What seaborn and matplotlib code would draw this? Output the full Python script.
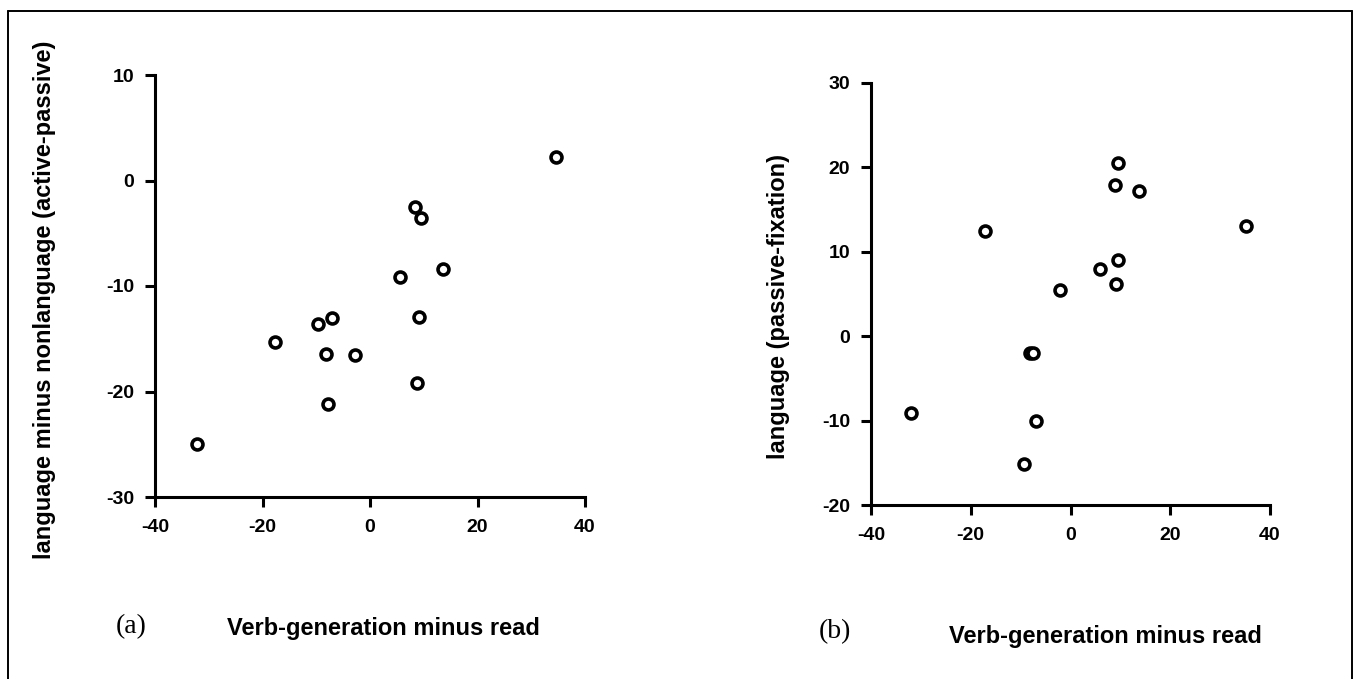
import matplotlib
matplotlib.use("Agg")
import matplotlib.pyplot as plt
from matplotlib.lines import Line2D
import seaborn as sns
import pandas as pd

# Panel (a)
a_x = [-32.2, -17.6, -9.6, -7.0, -8.2, -2.7, -7.9, 5.5, 8.4, 9.4, 9.1, 8.7, 13.5, 34.6]
a_y = [-25.0, -15.3, -13.6, -13.0, -16.4, -16.5, -21.2, -9.1, -2.5, -3.6, -12.9, -19.2, -8.4, 2.2]
# Panel (b)
b_x = [-32.0, -17.2, -9.3, -8.1, -7.5, -7.0, -2.1, 5.9, 9.0, 9.5, 9.5, 9.2, 13.8, 35.1]
b_y = [-9.05, 12.4, -15.2, -2.0, -2.0, -10.1, 5.4, 7.9, 17.9, 20.5, 9.0, 6.2, 17.2, 13.0]

x_ticks = [-40, -20, 0, 20, 40]
a_yticks = [-30, -20, -10, 0, 10]
b_yticks = [-20, -10, 0, 10, 20, 30]
x_label = "Verb-generation minus read"
a_ylabel = "language minus nonlanguage (active-passive)"
b_ylabel = "language (passive-fixation)"
panel_labels = ["(a)", "(b)"]

sns.set_style("ticks")
plt.rcParams["font.family"] = ["Liberation Sans", "DejaVu Sans"]
plt.rcParams["font.weight"] = "bold"
plt.rcParams["text.color"] = "black"

W, H = 1354, 679
fig = plt.figure(figsize=(W / 100, H / 100), dpi=100)
fig.patch.set_facecolor("white")

def fx(px):
    return px / W

def fy(py):
    return 1 - py / H

ax1 = fig.add_axes([fx(155), fy(497), (585 - 155) / W, (497 - 75) / H])
ax2 = fig.add_axes([fx(871), fy(505), (1270 - 871) / W, (505 - 82.7) / H])

dfa = pd.DataFrame({"x": a_x, "y": a_y})
dfb = pd.DataFrame({"x": b_x, "y": b_y})

for ax, df, yt, yl in [(ax1, dfa, a_yticks, a_ylabel), (ax2, dfb, b_yticks, b_ylabel)]:
    sns.scatterplot(data=df, x="x", y="y", ax=ax, marker="o", s=62,
                    facecolor="white", edgecolor="black", linewidth=2.6, zorder=3)
    ax.set_xlim(x_ticks[0], x_ticks[-1])
    ax.set_ylim(yt[0], yt[-1])
    ax.set_xticks(x_ticks)
    ax.set_yticks(yt)
    ax.set_xticklabels([str(t) for t in x_ticks], fontsize=14, fontweight="bold")
    ax.set_yticklabels([str(t) for t in yt], fontsize=14, fontweight="bold")
    ax.set_xlabel("")
    ax.set_ylabel("")
    for s in ["top", "right"]:
        ax.spines[s].set_visible(False)
    for s in ["left", "bottom"]:
        ax.spines[s].set_linewidth(2.2)
        ax.spines[s].set_color("black")
    ax.tick_params(axis="both", which="major", length=7, width=2.2,
                   color="black", labelcolor="black", direction="out")
    ax.tick_params(axis="x", pad=9)
    ax.tick_params(axis="y", pad=8)
    for p in ax.collections:
        p.set_clip_on(False)

# y labels
fig.text(fx(45), fy(300), a_ylabel, rotation=90, ha="center", va="center",
         fontsize=17, fontweight="bold", color="black")
fig.text(fx(778), fy(307), b_ylabel, rotation=90, ha="center", va="center",
         fontsize=17, fontweight="bold", color="black")

# x labels
fig.text(fx(383), fy(629), x_label, ha="center", va="center", fontsize=17,
         fontweight="bold", color="black")
fig.text(fx(1105), fy(637), x_label, ha="center", va="center", fontsize=17,
         fontweight="bold", color="black")

# panel labels
fig.text(fx(131), fy(627), panel_labels[0], ha="center", va="center", fontsize=20,
         family=["Liberation Serif", "DejaVu Serif"], fontweight="normal", color="black")
fig.text(fx(835), fy(632), panel_labels[1], ha="center", va="center", fontsize=20,
         family=["Liberation Serif", "DejaVu Serif"], fontweight="normal", color="black")

# outer frame (left, top, right)
lw = 1.4
fig.add_artist(Line2D([fx(8), fx(8)], [fy(11), 0], color="black", lw=lw, transform=fig.transFigure))
fig.add_artist(Line2D([fx(8), fx(1352)], [fy(11), fy(11)], color="black", lw=lw, transform=fig.transFigure))
fig.add_artist(Line2D([fx(1352), fx(1352)], [fy(11), 0], color="black", lw=lw, transform=fig.transFigure))

fig.savefig("out.png", dpi=100)
